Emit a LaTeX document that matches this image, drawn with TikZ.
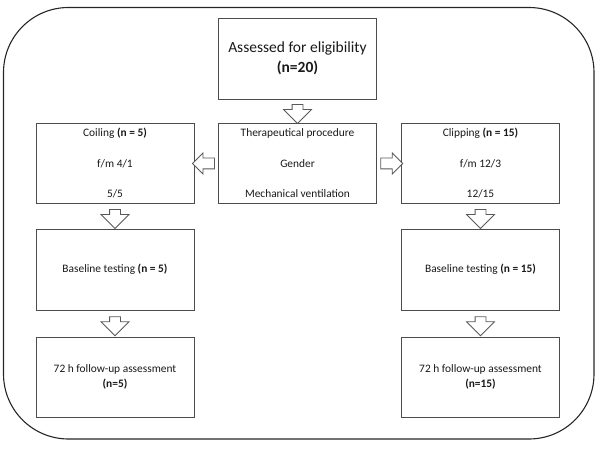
\documentclass[tikz,border=0pt]{standalone}
\usepackage{fontspec}
\setmainfont{Carlito}
\usetikzlibrary{calc}
\usetikzlibrary{shapes.arrows}

\tikzset{
  box/.style={draw=black!70, line width=0.8pt, minimum width=158pt, minimum height=80pt,
    align=center, text=black!90, outer sep=0pt, font=\fontsize{11.4}{14.5}\selectfont},
  blockarrow/.style={single arrow, draw=black!65, line width=0.8pt, fill=white,
    inner sep=5pt, outer sep=0pt, single arrow head extend=8.5pt, minimum height=19pt},
  downarrow/.style={blockarrow, shape border rotate=270},
  leftarrow/.style={blockarrow, shape border rotate=180, single arrow head extend=5pt, minimum height=22pt},
  rightarrow/.style={blockarrow, single arrow head extend=5pt, minimum height=22pt}
}

\begin{document}
\begin{tikzpicture}[x=1pt,y=-1pt]
\useasboundingbox (0,0) rectangle (600,449);
\def\lineGap{16pt}
% frame
\draw[line width=1.1pt, black!85, rounded corners=65pt] (3.5,7.5) rectangle (594,439);

% boxes
\node[box, minimum height=81pt, font=\fontsize{15.5}{20}\selectfont] (assess) at (297.5,58.5)
  {Assessed for eligibility\\\textbf{(n=20)}};
\node[box] (groups) at (297.5,163.5)
  {Therapeutical procedure\\[\lineGap]Gender\\[\lineGap]Mechanical ventilation};
\node[box] (coil) at (115,163.5)
  {Coiling \textbf{(n = 5)}\\[\lineGap]f/m 4/1\\[\lineGap]5/5};
\node[box] (clip) at (480.5,163.5)
  {Clipping \textbf{(n = 15)}\\[\lineGap]f/m 12/3\\[\lineGap]12/15};
\node[box, minimum height=81pt] (baseA) at (115,269.5) {Baseline testing \textbf{(n = 5)}};
\node[box, minimum height=81pt] (baseB) at (480.5,269.5) {Baseline testing \textbf{(n = 15)}};
\node[box] (followA) at (115,377) {72 h follow-up assessment\\\textbf{(n=5)}};
\node[box] (followB) at (480.5,377) {72 h follow-up assessment\\\textbf{(n=15)}};

% arrows
\node[downarrow] (a1) at ($(assess.south)!0.5!(groups.north)$) {};
\node[leftarrow] (a2) at ($(groups.west)!0.5!(coil.east)$) {};
\node[rightarrow] (a3) at ($(groups.east)!0.5!(clip.west)$) {};
\node[downarrow] (a4) at ($(coil.south)!0.5!(baseA.north)$) {};
\node[downarrow] (a5) at ($(clip.south)!0.5!(baseB.north)$) {};
\node[downarrow] (a6) at ($(baseA.south)!0.5!(followA.north)$) {};
\node[downarrow] (a7) at ($(baseB.south)!0.5!(followB.north)$) {};
\end{tikzpicture}
\end{document}
